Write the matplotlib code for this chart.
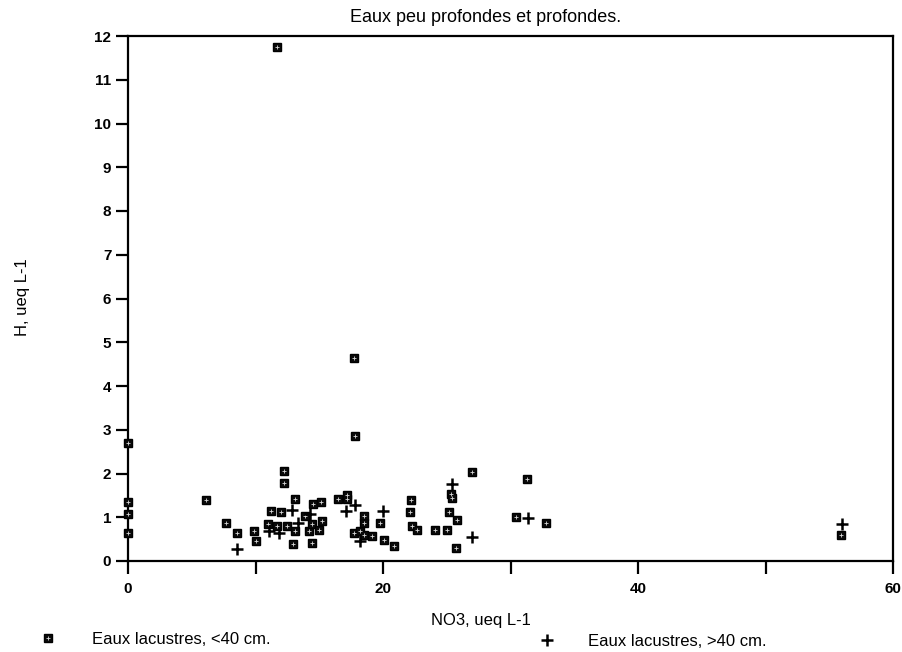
import matplotlib
matplotlib.use("Agg")
import matplotlib.pyplot as plt
from matplotlib.lines import Line2D

plt.rcParams['font.family'] = ['Liberation Sans', 'DejaVu Sans']

# ---- data ----
title = "Eaux peu profondes et profondes."
xlabel = "NO3, ueq L-1"
ylabel = "H, ueq L-1"
label_shallow = "Eaux lacustres, <40 cm."
label_deep = "Eaux lacustres, >40 cm."

shallow_no3 = [0, 0, 0, 0, 6.1, 7.7, 8.55, 9.9, 10.0, 11.0, 11.2, 11.7, 11.7,
               12.0, 12.2, 12.2, 12.45, 12.95, 13.1, 13.1, 13.85, 14.2, 14.4,
               14.45, 14.5, 14.95, 15.15, 15.2, 16.45, 17.2, 17.2, 17.7, 17.7,
               17.8, 18.2, 18.5, 18.5, 18.5, 19.1, 19.8, 20.1, 20.9, 22.2, 22.1,
               22.3, 22.7, 24.1, 25.0, 25.2, 25.3, 25.4, 25.8, 25.7, 27.0, 30.4,
               31.3, 32.8, 55.9]
shallow_h = [2.69, 1.36, 1.08, 0.63, 1.40, 0.86, 0.65, 0.68, 0.45, 0.85, 1.15,
             0.81, 11.75, 1.12, 2.06, 1.79, 0.79, 0.40, 0.68, 1.42, 1.04, 0.68,
             0.42, 0.85, 1.31, 0.71, 1.35, 0.92, 1.42, 1.42, 1.52, 0.65, 4.65,
             2.86, 0.69, 1.04, 0.88, 0.60, 0.58, 0.88, 0.48, 0.34, 1.40, 1.13,
             0.80, 0.71, 0.72, 0.71, 1.13, 1.53, 1.43, 0.94, 0.29, 2.03, 1.00,
             1.88, 0.86, 0.60]

deep_no3 = [8.55, 11.05, 11.85, 12.9, 13.3, 14.3, 17.1, 17.8, 18.2, 20.0, 25.4,
            27.0, 31.4, 56.0]
deep_h = [0.27, 0.69, 0.65, 1.17, 0.88, 1.08, 1.15, 1.27, 0.46, 1.14, 1.75,
          0.54, 0.98, 0.85]

x_major = [0, 20, 40, 60]
x_minor = [10, 30, 50]
y_ticks = list(range(0, 13))

# ---- figure ----
W, H = 902, 652
fig = plt.figure(figsize=(W / 100, H / 100), dpi=100)
ax = fig.add_axes([128 / W, 1 - 561 / H, (893 - 128) / W, (561 - 36) / H])

sq_kw = dict(marker='s', ms=6.0, mfc='#0a0a0a', mec='black', mew=1.0, ls='none')
sq_in_kw = dict(marker='+', ms=2.6, mfc='none', mec='#d8d8d8', mew=0.6, ls='none')
pl_kw = dict(marker='+', ms=8, mew=1.8, color='black', ls='none')

ax.plot(shallow_no3, shallow_h, **sq_kw, zorder=3, clip_on=False)
ax.plot(shallow_no3, shallow_h, **sq_in_kw, zorder=4, clip_on=False)
ax.plot(deep_no3, deep_h, **pl_kw, zorder=5, clip_on=False)

ax.set_xlim(0, 60)
ax.set_ylim(0, 12)
ax.set_xticks(x_major)
ax.set_xticks(x_minor, minor=True)
ax.set_yticks(y_ticks)
ax.tick_params(axis='both', which='both', direction='out', length=9, width=1.6,
               labelsize=11)
ax.tick_params(axis='x', pad=6)
ax.tick_params(axis='y', pad=3)
for lab in ax.get_xticklabels() + ax.get_yticklabels():
    lab.set_fontweight('bold')
for s in ax.spines.values():
    s.set_linewidth(1.6)

fig.text(486 / W, 1 - 17 / H, title, ha='center', va='center', fontsize=13)
fig.text(481 / W, 1 - 621 / H, xlabel, ha='center', va='center', fontsize=12)
fig.text(23 / W, 1 - 297 / H, ylabel, ha='center', va='center', fontsize=12,
         rotation=90)

# legend entries
h1 = (Line2D([], [], **sq_kw), Line2D([], [], **sq_in_kw))
h2 = Line2D([], [], **pl_kw)
leg1 = fig.legend([h1], [label_shallow], loc='center left',
                  bbox_to_anchor=(37 / W, 1 - 639 / H), frameon=False,
                  handlelength=1.3, handletextpad=2.0, fontsize=12,
                  borderaxespad=0, borderpad=0)
leg2 = fig.legend([h2], [label_deep], loc='center left',
                  bbox_to_anchor=(536 / W, 1 - 641 / H), frameon=False,
                  handlelength=1.3, handletextpad=1.8, fontsize=12,
                  borderaxespad=0, borderpad=0)

fig.savefig("out.png", dpi=100)
